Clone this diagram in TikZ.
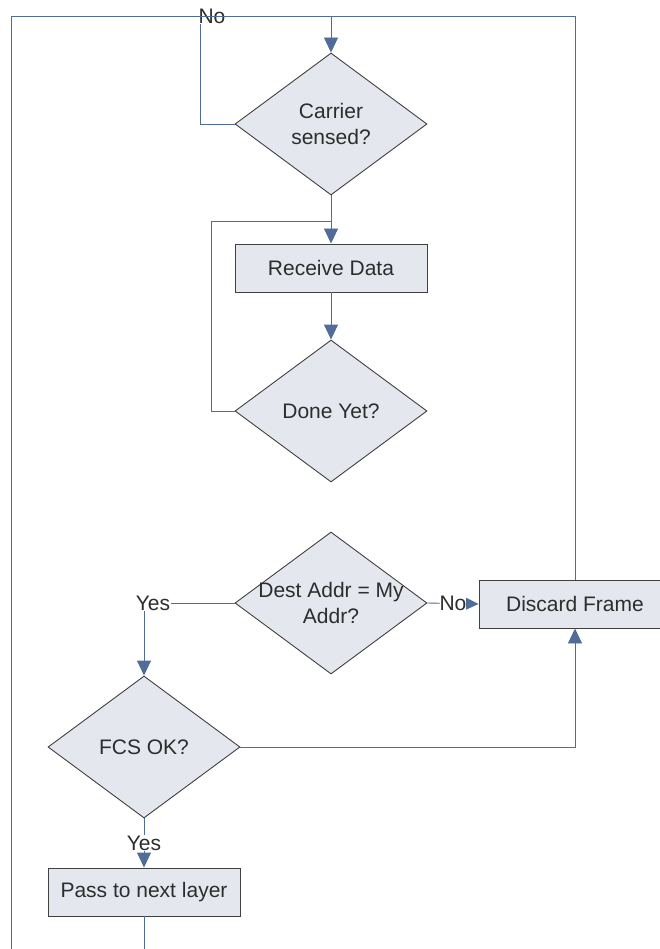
\documentclass[tikz,border=0pt]{standalone}
\usepackage{fontspec}
\setmainfont{Liberation Sans}
\usetikzlibrary{shapes.geometric,arrows.meta}

\definecolor{flowline}{RGB}{79,109,152}
\definecolor{shapefill}{RGB}{228,231,238}
\definecolor{shapeedge}{RGB}{64,64,64}
\definecolor{textgray}{RGB}{45,45,45}

\tikzset{
  process/.style={rectangle, draw=shapeedge, fill=shapefill, line width=0.9pt,
    minimum width=192pt, minimum height=48pt, inner sep=0pt, text=textgray},
  decision/.style={diamond, draw=shapeedge, fill=shapefill, line width=0.9pt,
    minimum width=192pt, minimum height=142pt, inner sep=0pt},
  dtext/.style={align=center, text=textgray, inner sep=0pt},
  line/.style={draw=flowline, line width=0.9pt},
  arrow/.style={line, -{Triangle[width=14pt,length=15pt]}},
  lbl/.style={text=textgray, inner sep=0.5pt, fill=white}
}

\begin{document}
\begin{tikzpicture}[x=1pt, y=-1pt, font=\fontsize{21}{26}\selectfont]
  \useasboundingbox (0,0) rectangle (660,949);

  \node[decision, label={[dtext]center:Carrier\\sensed?}] (carrier) at (331,124) {};
  \node[process] (recv) at (331,268) {Receive Data};
  \node[decision, label={[dtext]center:Done Yet?}] (done) at (331,411) {};
  \node[decision, label={[dtext]center:Dest Addr = My\\Addr?}] (dest) at (331,603) {};
  \node[process] (discard) at (575,604) {Discard Frame};
  \node[decision, label={[dtext]center:FCS OK?}] (fcs) at (144,747) {};
  \node[process] (pass) at (144,892) {Pass to next layer};

  \coordinate (top) at (331,16);
  \coordinate (nwc) at (11,16);
  \coordinate (merge) at (331,221);
  \coordinate (bl) at (11,960);
  \coordinate (passend) at (144,960);

  % wait for carrier
  \draw[line] (carrier.west) -| (200,16) node[lbl, xshift=12pt] {No};

  % main loop back to the top
  \draw[arrow] (bl) -- (nwc) -- (top) -- (carrier.north);
  \draw[line] (discard.north) |- (top);

  % receive loop
  \draw[line] (carrier.south) -- (merge);
  \draw[arrow] (merge) -- (recv.north);
  \draw[arrow] (recv.south) -- (done.north);
  \draw[line] (done.west) -- ++(-23,0) |- (merge);

  % address and checksum
  \draw[arrow] (dest.east) -- node[lbl, inner sep=0pt] {No} (discard.west);
  \draw[arrow] (dest.west) -| node[lbl, xshift=9pt] {Yes} (fcs.north);
  \draw[arrow] (fcs.east) -| (discard.south);
  \draw[arrow] (fcs.south) -- node[lbl] {Yes} (pass.north);
  \draw[line] (pass.south) -- (passend);

\end{tikzpicture}
\end{document}
